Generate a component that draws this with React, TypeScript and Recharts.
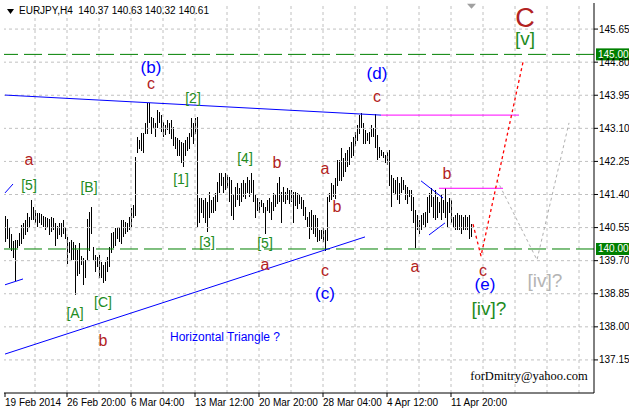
import React from 'react';
import { ComposedChart, Bar, Line, XAxis, YAxis, ReferenceLine, ReferenceDot } from 'recharts';

const SANS = '"Liberation Sans", Arial, sans-serif';
const SERIF = '"Liberation Serif", "Times New Roman", serif';

// EURJPY H4 bar highs / lows, oldest first (234 bars)
const highs = [
  140.85, 140.77, 140.54, 140.39, 140.21, 140.23, 140.23, 140.41, 140.62, 140.67,
  140.75, 140.93, 140.82, 141.26, 141.08, 141.00, 140.93, 140.93, 140.90, 140.85,
  140.82, 140.80, 140.77, 140.82, 140.80, 140.67, 140.59, 140.67, 140.67, 140.75,
  140.57, 140.31, 140.18, 140.23, 140.18, 140.10, 139.97, 140.15,
  139.82, 139.77, 139.72, 140.77, 140.95, 141.08, 140.05, 139.85, 139.80, 139.85,
  139.67, 139.59, 139.67, 139.80, 140.05, 140.41, 140.44, 140.54, 140.57, 140.57,
  140.75, 140.75, 140.69, 140.67, 140.82, 141.05, 141.13, 142.36,
  142.88, 142.80, 142.98, 142.98, 143.24, 143.75, 143.75, 143.39, 143.36, 143.24,
  143.57, 143.52, 143.44, 143.26, 143.19, 143.31, 143.24, 143.31, 143.13, 142.88,
  142.85, 142.80, 142.75, 142.72, 142.80, 142.88, 142.98, 143.36, 143.24, 143.36,
  143.39, 141.31,
  141.31, 141.26, 141.31, 141.21, 141.46, 141.26, 141.34, 141.44, 141.72, 141.95,
  141.95, 141.85, 141.95, 141.90, 141.85, 141.77, 141.39, 141.59, 141.70, 141.57,
  141.70, 141.77, 141.70, 141.85, 141.77, 141.95, 141.77, 141.39, 141.31, 141.21,
  141.26, 141.18, 141.08, 141.26, 141.31, 141.21, 141.44, 141.39, 141.70, 141.85,
  141.46, 141.59, 141.46, 141.57, 141.52, 141.52, 141.46, 141.46, 141.44, 141.39,
  141.34, 141.26, 141.08, 140.82, 140.95, 141.00, 140.87, 140.87, 140.80, 140.49,
  140.49, 140.54, 140.49, 141.34, 141.44, 141.70, 141.64, 141.82, 142.29, 142.29,
  142.59, 142.34, 142.47, 142.54, 142.62, 142.75, 142.88, 143.01, 143.19, 143.44,
  143.49, 143.24, 143.06, 142.98, 143.01, 143.19, 143.11, 143.47, 142.93, 142.62,
  142.54, 142.49, 142.41, 142.49, 142.54, 141.90, 141.82, 141.77, 141.85, 141.70,
  141.85,
  141.77, 141.64, 141.59, 141.52, 141.52, 141.34, 141.00, 140.87, 140.75, 140.87,
  140.93, 140.95, 141.34, 141.44, 141.57, 141.34, 141.52, 141.34, 141.21, 141.39,
  141.26, 141.57, 141.21, 141.31, 141.26, 140.82, 140.87, 140.93, 140.87, 140.87,
  140.82, 140.87, 140.82, 140.87, 140.63,
];

const lows = [
  140.18, 140.28, 140.05, 139.97, 139.77, 139.20, 140.03, 140.10, 140.15, 140.28,
  140.36, 140.44, 140.54, 140.75, 140.75, 140.69, 140.57, 140.67, 140.62, 140.57,
  140.49, 140.54, 140.36, 140.44, 140.49, 140.10, 140.28, 140.36, 140.31, 140.41,
  140.28, 139.64, 139.92, 139.72, 139.72, 138.82, 139.33, 139.38,
  139.59, 139.08, 139.26, 139.72, 139.97, 140.41, 139.72, 139.41, 139.54, 139.28,
  139.26, 139.13, 139.20, 139.41, 139.54, 139.92, 140.05, 140.10, 140.28, 140.18,
  140.15, 140.31, 140.41, 140.44, 140.49, 140.57, 140.82, 140.87,
  142.47, 142.59, 142.54, 142.49, 142.98, 142.98, 143.24, 142.98, 143.13, 142.88,
  143.13, 143.26, 143.01, 142.88, 142.93, 143.06, 142.98, 142.85, 142.67, 142.59,
  142.41, 142.41, 142.23, 142.11, 142.41, 142.54, 142.59, 142.88, 142.72, 142.98,
  140.57, 140.69,
  140.93, 140.80, 140.69, 140.44, 140.80, 140.95, 140.93, 141.00, 141.21, 141.44,
  141.64, 141.44, 141.52, 141.57, 141.21, 140.87, 140.75, 141.08, 141.26, 141.13,
  141.21, 141.34, 141.31, 141.46, 141.34, 141.44, 141.21, 140.80, 141.00, 140.95,
  141.08, 140.95, 140.41, 141.00, 140.93, 140.75, 141.00, 141.08, 141.18, 141.21,
  140.69, 141.21, 141.18, 141.26, 141.18, 141.21, 140.67, 141.13, 141.05, 141.18,
  141.05, 140.87, 140.75, 140.57, 140.28, 140.49, 140.41, 140.31, 140.18, 140.23,
  140.28, 140.18, 139.97, 140.23, 141.21, 141.26, 141.34, 141.31, 141.64, 141.77,
  141.77, 141.85, 141.98, 142.11, 142.16, 142.34, 142.41, 142.67, 142.80, 142.98,
  143.13, 142.72, 142.72, 142.80, 142.72, 142.88, 142.88, 142.62, 142.29, 142.34,
  142.41, 142.34, 142.21, 142.16, 141.64, 141.08, 141.46, 141.39, 141.26, 141.18,
  141.46,
  141.52, 141.26, 141.18, 141.34, 141.00, 140.69, 140.03, 140.49, 140.41, 140.49,
  140.62, 140.57, 140.67, 140.95, 141.08, 140.80, 140.75, 140.82, 140.93, 140.75,
  140.95, 140.82, 140.57, 140.93, 140.69, 140.54, 140.49, 140.49, 140.49, 140.41,
  140.49, 140.49, 140.49, 140.28, 140.32,
];

const slotCount = 295;

const priceTicks = [137.15, 138.0, 138.85, 139.7, 140.55, 141.4, 142.25, 143.1, 143.95, 144.8, 145.65];
const priceDomain = [136.3, 146.32];

const timeTicks = [0, 31, 63, 95, 127, 159, 191, 223];
const timeLabels = ['19 Feb 2014', '26 Feb 20:00', '6 Mar 04:00', '13 Mar 12:00', '20 Mar 20:00', '28 Mar 04:00', '4 Apr 12:00', '11 Apr 20:00'];
const gridCols = [15, 31, 47, 63, 79, 95, 111, 127, 143, 159, 175, 191, 207, 223, 239, 255, 271, 287];

const levels = [145.0, 140.0];

// trend lines: [fromIndex, fromPrice, toIndex, toPrice]
const blueLines = [
  [0, 143.955, 188, 143.44],
  [0, 137.3, 180, 140.31],
  [0, 141.44, 4, 141.67],
  [0, 139.08, 9, 139.23],
  [208, 141.75, 219, 141.31],
  [212, 140.36, 220, 140.67],
];
const magentaLines = [
  [188, 143.44, 257, 143.44],
  [217, 141.56, 249, 141.56],
];

const redIdx = [234, 238, 259];
const redPrice = [140.64, 139.82, 144.8];
const grayIdx = [246, 266, 282];
const grayPrice = [141.77, 139.72, 143.24];

// wave labels: [index, price, text]
const degreeLabels = [
  [73, 144.67, '(b)'], [186, 144.5, '(d)'], [160, 138.85, '(c)'], [240, 139.08, '(e)'],
];
const minorLabels = [
  [73, 144.24, 'c'], [186, 143.93, 'c'], [12, 142.29, 'a'], [136, 142.21, 'b'],
  [160, 142.08, 'a'], [166, 141.1, 'b'], [130, 139.59, 'a'], [160, 139.46, 'c'],
  [221, 141.93, 'b'], [205, 139.54, 'a'], [239, 139.46, 'c'], [49, 137.66, 'b'],
];
const subLabels = [
  [12, 141.64, '[5]'], [42, 141.59, '[B]'], [88, 141.8, '[1]'], [94, 143.88, '[2]'],
  [101, 140.18, '[3]'], [120, 142.34, '[4]'], [130, 140.15, '[5]'], [35, 138.36, '[A]'],
  [49, 138.64, '[C]'],
];
const bigLabels = [[260, 145.42, '[v]'], [242, 138.46, '[iv]?']];
const altLabels = [[270, 139.18, '[iv]?']];
const capLabels = [[260, 145.93, 'C']];
const notes = [[110, 137.74, 'Horizontal Triangle ?']];
const signature = [[262, 136.74, 'forDmitry@yahoo.com']];

const rows = Array.from({ length: slotCount }, (_, i) => {
  const r = redIdx.indexOf(i);
  const g = grayIdx.indexOf(i);
  return {
    i,
    range: i < highs.length ? [lows[i], highs[i]] : null,
    red: r >= 0 ? redPrice[r] : null,
    gray: g >= 0 ? grayPrice[g] : null,
  };
});

const BarLine = (p: any) => {
  if (p.height == null || p.width == null) return null;
  const x = Math.floor(p.x + p.width / 2) + 0.5;
  const y1 = Math.min(p.y, p.y + p.height);
  const y2 = Math.max(p.y, p.y + p.height);
  return <line x1={x} x2={x} y1={y1} y2={y2 + 0.5} stroke="#000" strokeWidth={1} shapeRendering="crispEdges" />;
};

const TimeTick = (p: any) => {
  const k = timeTicks.indexOf(p.payload.value);
  return (
    <g>
      <line x1={p.x} x2={p.x} y1={p.y} y2={p.y + 4} stroke="#000" />
      <text x={p.x} y={p.y + 13} fontSize={10} fontFamily={SANS} fill="#000" textAnchor="start">
        {timeLabels[k]}
      </text>
    </g>
  );
};

const textShape = (text: string, fill: string, size: number, family = SANS) => (p: any) => (
  <text x={p.cx} y={p.cy} textAnchor="middle" dominantBaseline="central" fill={fill} fontSize={size} fontFamily={family}>
    {text}
  </text>
);

const priceTag = (text: string) => (p: any) => (
  <g>
    <rect x={p.cx + 3} y={p.cy - 6} width={34} height={12} fill="#008000" />
    <text x={p.cx + 5} y={p.cy} dominantBaseline="central" fill="#fff" fontSize={10} fontFamily={SANS}>
      {text}
    </text>
  </g>
);

const shiftMark = (p: any) => (
  <polygon points={`${p.cx - 4},${p.cy - 2} ${p.cx + 5},${p.cy - 2} ${p.cx + 0.5},${p.cy + 3}`} fill="#a0a0a0" />
);

export default function App() {
  const labelDots = (list: any[], fill: string, size: number, family = SANS) =>
    list.map(([i, p, t], k) => (
      <ReferenceDot key={`${t}-${k}-${i}`} x={i} y={p} yAxisId="p" r={2} ifOverflow="visible" shape={textShape(t, fill, size, family)} />
    ));

  return (
    <div style={{ position: 'absolute', left: 0, top: 0, width: 629, height: 410, background: '#fff' }}>
      <ComposedChart width={629} height={410} data={rows} margin={{ top: 3, right: 0, bottom: 0, left: 4 }} barCategoryGap={0}>
        <XAxis dataKey="i" type="category" ticks={timeTicks} interval={0} tick={TimeTick} tickLine={false}
          tickSize={0} tickMargin={0} height={17} axisLine={{ stroke: '#000' }} />
        <XAxis xAxisId="top" orientation="top" dataKey="i" type="category" height={0} tick={false} tickLine={false}
          axisLine={{ stroke: '#000' }} />
        <YAxis yAxisId="left" orientation="left" type="number" domain={priceDomain} width={0} tick={false}
          tickLine={false} axisLine={{ stroke: '#000' }} allowDataOverflow />
        <YAxis yAxisId="p" orientation="right" type="number" domain={priceDomain} ticks={priceTicks} interval={0}
          width={35} tickSize={4} tickMargin={1} allowDataOverflow axisLine={{ stroke: '#000' }} tickLine={{ stroke: '#000' }}
          tick={{ fill: '#000', fontSize: 10, fontFamily: SANS }} tickFormatter={(v: number) => v.toFixed(2)} />

        {priceTicks.map((t) => (
          <ReferenceLine key={`h${t}`} y={t} yAxisId="p" stroke="#c0c0c0" strokeDasharray="3 3" />
        ))}
        {gridCols.map((c) => (
          <ReferenceLine key={`v${c}`} x={c} yAxisId="p" stroke="#c0c0c0" strokeDasharray="3 3" />
        ))}
        {levels.map((l) => (
          <ReferenceLine key={`l${l}`} y={l} yAxisId="p" stroke="#008000" strokeDasharray="18 6" />
        ))}

        <Bar dataKey="range" yAxisId="p" barSize={1} fill="#000" shape={BarLine} isAnimationActive={false} />

        {blueLines.map(([a, pa, b, pb], k) => (
          <ReferenceLine key={`b${k}`} yAxisId="p" stroke="#0000ff" ifOverflow="visible"
            segment={[{ x: a, y: pa }, { x: b, y: pb }]} />
        ))}
        {magentaLines.map(([a, pa, b, pb], k) => (
          <ReferenceLine key={`m${k}`} yAxisId="p" stroke="#ff00ff" ifOverflow="visible"
            segment={[{ x: a, y: pa }, { x: b, y: pb }]} />
        ))}

        <Line dataKey="gray" yAxisId="p" stroke="#b0b0b0" strokeDasharray="3 3" dot={false} connectNulls isAnimationActive={false} />
        <Line dataKey="red" yAxisId="p" stroke="#ff0000" strokeWidth={1.3} strokeDasharray="3 3" dot={false} connectNulls isAnimationActive={false} />

        {labelDots(degreeLabels, '#0000ff', 17)}
        {labelDots(minorLabels, '#b22222', 16)}
        {labelDots(subLabels, '#228b22', 14)}
        {labelDots(bigLabels, '#228b22', 19)}
        {labelDots(altLabels, '#b4b4b4', 19)}
        {labelDots(capLabels, '#b22222', 27)}
        {labelDots(notes, '#0000ff', 12)}
        {labelDots(signature, '#000', 12.5, SERIF)}

        <ReferenceDot x={highs.length - 1} y={146.25} yAxisId="p" r={2} ifOverflow="visible" shape={shiftMark} />
        {levels.map((l) => (
          <ReferenceDot key={`t${l}`} x={slotCount - 1} y={l} yAxisId="p" r={2} ifOverflow="visible" shape={priceTag(l.toFixed(2))} />
        ))}
      </ComposedChart>
      <div style={{ position: 'absolute', left: 7, top: 4, fontFamily: SANS, fontSize: 10, color: '#000', whiteSpace: 'pre', display: 'flex', alignItems: 'center', lineHeight: '14px' }}>
        <svg width={7} height={5} style={{ marginRight: 5 }}>
          <polygon points="0,0 7,0 3.5,5" fill="#000" />
        </svg>
        <span>EURJPY,H4  140.37 140.63 140.32 140.61</span>
      </div>
    </div>
  );
}
